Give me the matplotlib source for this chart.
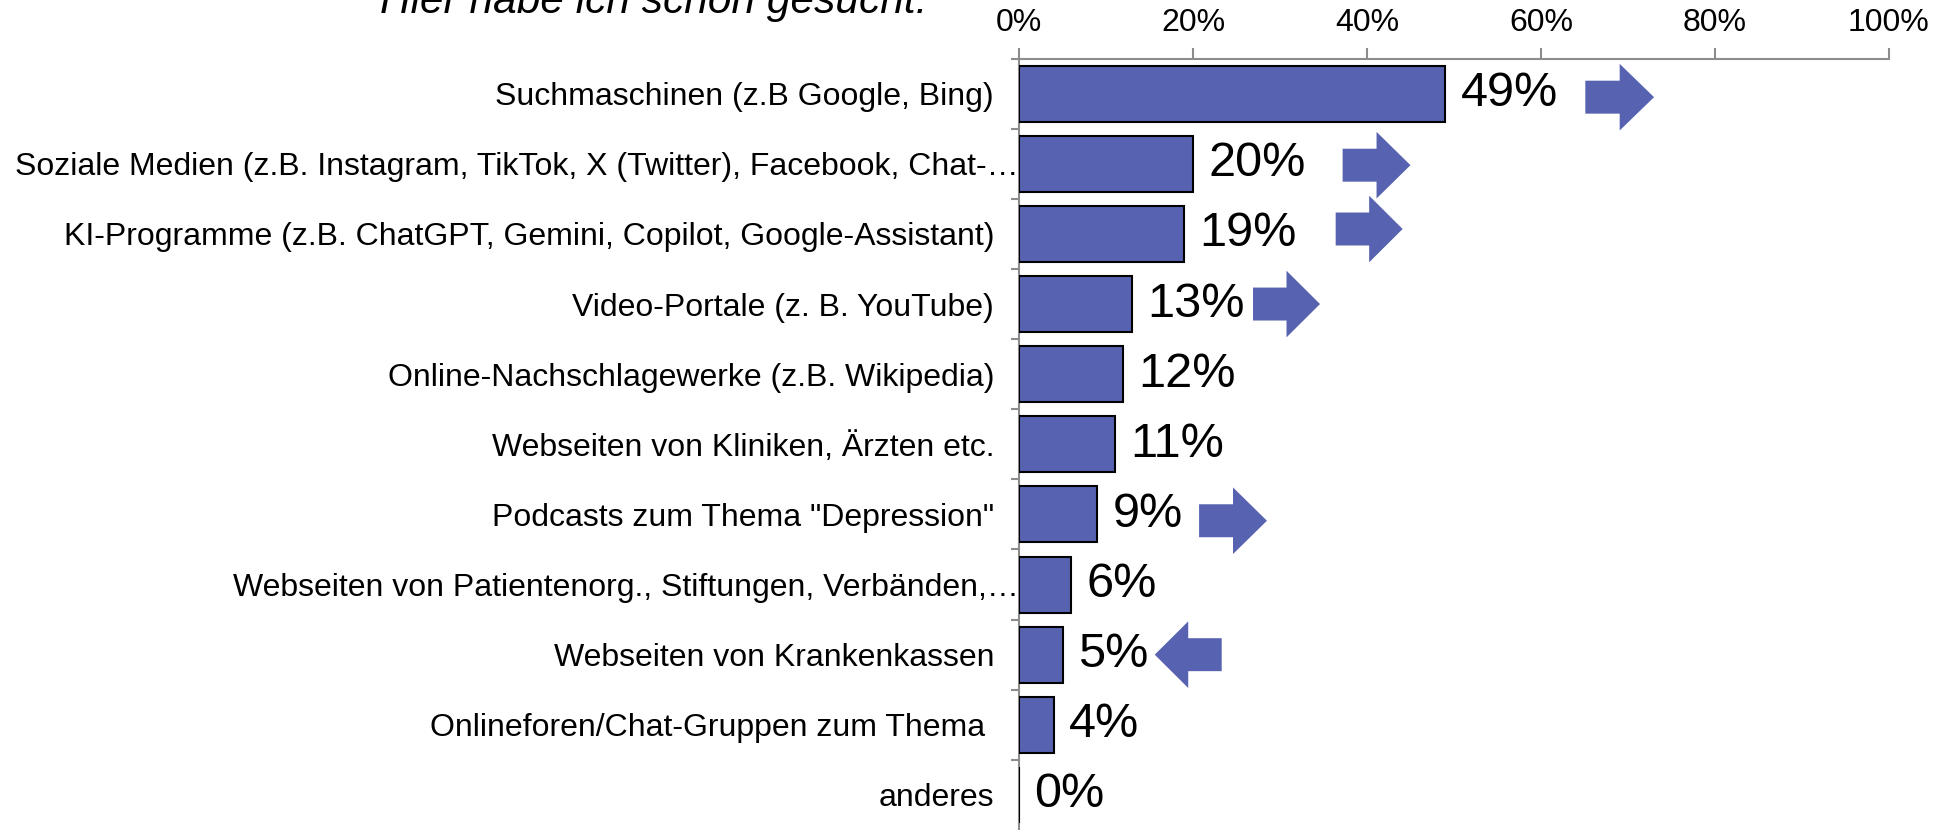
import numpy as np
import matplotlib
matplotlib.use('Agg')
import matplotlib.pyplot as plt
import matplotlib.patches as patches

plt.rcParams['font.family'] = ['Liberation Sans', 'DejaVu Sans']

# data
categories = ['Suchmaschinen (z.B Google, Bing)',
              'Soziale Medien (z.B. Instagram, TikTok, X (Twitter), Facebook, Chat-…',
              'KI-Programme (z.B. ChatGPT, Gemini, Copilot, Google-Assistant)',
              'Video-Portale (z. B. YouTube)',
              'Online-Nachschlagewerke (z.B. Wikipedia)',
              'Webseiten von Kliniken, Ärzten etc.',
              'Podcasts zum Thema "Depression"',
              'Webseiten von Patientenorg., Stiftungen, Verbänden,…',
              'Webseiten von Krankenkassen',
              'Onlineforen/Chat-Gruppen zum Thema ',
              'anderes']
values = [49, 20, 19, 13, 12, 11, 9, 6, 5, 4, 0]
truncated = [1, 7]

# trend arrows: row, tail x (%), tip x (%), vertical shift (rows)
arrow_rows = [0, 1, 2, 3, 6, 8]
arrow_tail = [65.1, 37.2, 36.4, 26.9, 20.7, 23.3]
arrow_tip = [73.0, 45.0, 44.1, 34.6, 28.5, 15.6]
arrow_shift = [0.05, 0.02, -0.07, 0.0, 0.09, 0.0]

xticks = [0, 20, 40, 60, 80, 100]
title = 'Hier habe ich schon gesucht:'

bar_color = '#5763B0'
axis_gray = '#8C8C8C'

fig = plt.figure(figsize=(19.54, 8.3), dpi=100)
ax = fig.add_axes([0.5215, 0.0, 0.4452, 0.9294])

y = np.arange(len(categories))
ax.barh(y, values, height=0.8, color=bar_color, edgecolor='black', linewidth=1.5, zorder=3)

for yi, v in zip(y, values):
    ax.annotate('%d%%' % v, (v, yi), xytext=(11, 0), textcoords='offset points',
                ha='left', va='center', fontsize=35)

# arrows as polygons in data coords
for r, x0, x1, dy in zip(arrow_rows, arrow_tail, arrow_tip, arrow_shift):
    yc = r + dy
    L = x1 - x0
    xm = x0 + L * 0.5
    bh = 0.235
    hh = 0.475
    pts = [(x0, yc - bh), (xm, yc - bh), (xm, yc - hh), (x1, yc),
           (xm, yc + hh), (xm, yc + bh), (x0, yc + bh)]
    ax.add_patch(patches.Polygon(pts, closed=True, facecolor=bar_color,
                                 edgecolor='none', zorder=3))

ax.set_xlim(0, 100)
ax.set_ylim(len(categories) - 0.5, -0.5)

ax.xaxis.tick_top()
ax.set_xticks(xticks)
ax.set_xticklabels(['%d%%' % t for t in xticks], fontsize=23)
ax.tick_params(axis='x', direction='out', length=8, width=1.5, color=axis_gray, pad=7)

ax.set_yticks(y)
ax.set_yticklabels(categories, fontsize=23)
ax.tick_params(axis='y', which='major', length=0, pad=18)
for i in truncated:
    ax.yaxis.get_major_ticks()[i].set_pad(0)
ax.set_yticks(np.arange(-0.5, len(categories) - 0.5, 1.0), minor=True)
ax.tick_params(axis='y', which='minor', direction='out', length=5.5, width=1.5, color=axis_gray)

for s in ['right', 'bottom']:
    ax.spines[s].set_visible(False)
for s in ['left', 'top']:
    ax.spines[s].set_color(axis_gray)
    ax.spines[s].set_linewidth(1.5)

# title sits mostly above the picture, as in the original crop
fig.text(0.1945, 1 - 13 / 830, title, fontsize=30.5, style='italic',
         ha='left', va='baseline')

fig.savefig('out.png', dpi=100)
